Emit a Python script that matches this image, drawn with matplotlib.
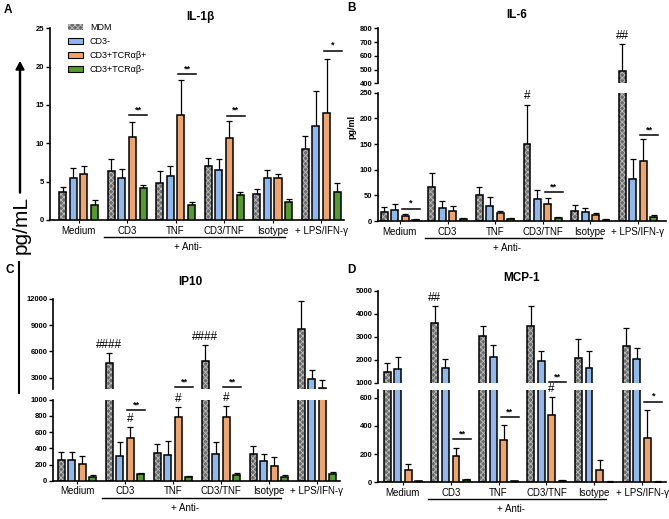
import numpy as np
import matplotlib
matplotlib.use("Agg")
import matplotlib.pyplot as plt
from matplotlib.patches import Patch

plt.rcParams['font.family'] = ['Liberation Sans', 'DejaVu Sans']
plt.rcParams['hatch.linewidth'] = 0.6

W, H = 669, 519

groups = ["Medium", "CD3", "TNF", "CD3/TNF", "Isotype", "+ LPS/IFN-\u03b3"]
series = ["MDM", "CD3-", "CD3+TCR\u03b1\u03b2+", "CD3+TCR\u03b1\u03b2-"]
colors = ["#6c6c6c", "#8fb8ee", "#eea46c", "#559a2c"]

# Panel A: IL-1beta (mean, upper error)
il1_mean = {"MDM": [3.6, 6.4, 4.8, 7.0, 3.4, 9.2],
            "CD3-": [5.5, 5.5, 5.8, 6.5, 5.5, 12.3],
            "TCR+": [6.0, 10.8, 13.7, 10.7, 5.5, 14.0],
            "TCR-": [2.0, 4.2, 2.0, 3.2, 2.3, 3.7]}
il1_err = {"MDM": [4.3, 7.9, 6.4, 8.1, 4.1, 11.0],
           "CD3-": [6.8, 6.7, 7.1, 7.9, 6.5, 16.8],
           "TCR+": [7.0, 12.8, 18.2, 12.9, 6.0, 21.0],
           "TCR-": [2.6, 4.6, 2.4, 3.6, 2.8, 4.8]}
# Panel B: IL-6
il6_mean = {"MDM": [18, 67, 50, 151, 20, 490],
            "CD3-": [21, 26, 29, 42, 17, 82],
            "TCR+": [10, 20, 16, 34, 12, 116],
            "TCR-": [2, 4, 3, 5, 2, 7]}
il6_err = {"MDM": [27, 94, 66, 227, 32, 683],
           "CD3-": [34, 38, 46, 61, 26, 120],
           "TCR+": [14, 29, 20, 45, 15, 160],
           "TCR-": [3, 5, 5, 7, 3, 12]}
# Panel C: IP10
ip10_mean = {"MDM": [260, 4650, 340, 4900, 330, 8500],
             "CD3-": [258, 310, 320, 335, 245, 2800],
             "TCR+": [210, 525, 790, 785, 180, 1800],
             "TCR-": [50, 80, 40, 70, 50, 85]}
ip10_err = {"MDM": [360, 5830, 450, 6750, 425, 11750],
            "CD3-": [350, 480, 490, 480, 330, 3900],
            "TCR+": [310, 660, 910, 925, 290, 2750],
            "TCR-": [70, 100, 55, 95, 65, 105]}
# Panel D: MCP-1
mcp_mean = {"MDM": [1450, 3580, 3030, 3470, 2080, 2600],
            "CD3-": [1580, 1650, 2130, 1950, 1650, 2050],
            "TCR+": [85, 190, 300, 475, 90, 315],
            "TCR-": [8, 15, 8, 12, 5, 5]}
mcp_err = {"MDM": [1840, 4350, 3470, 4350, 2920, 3360],
           "CD3-": [2130, 2030, 2640, 2380, 2400, 2520],
           "TCR+": [130, 240, 410, 605, 155, 510],
           "TCR-": [12, 22, 10, 15, 7, 7]}

# significance annotations: (group index, line height, text)
sig_A = [(1, 13.7, "**"), (2, 19.0, "**"), (3, 13.6, "**"), (5, 22.1, "*")]
sig_B = [(0, 24, "*"), (3, 56, "**"), (5, 168, "**")]
sig_C_low = [(1, 870, "**")]
sig_C_up = [(2, 1880, "**"), (3, 1880, "**")]
sig_D_low = [(1, 305, "**"), (2, 461, "**"), (5, 572, "*")]
sig_D_up = [(3, 1040, "**")]
# hash marks: (group index, series index, text)
hash_B = [(3, 0, "#"), (5, 0, "##")]
hash_C = [(1, 0, "####"), (3, 0, "####"), (1, 2, "#"), (2, 2, "#"), (3, 2, "#")]
hash_D = [(1, 0, "##"), (3, 2, "#")]

keys = ["MDM", "CD3-", "TCR+", "TCR-"]
offsets = [-0.33, -0.11, 0.11, 0.33]
bw = 0.145

fig = plt.figure(figsize=(W / 100, H / 100), dpi=100)


def add_ax(x0, x1, ytop, ybot):
    return fig.add_axes([x0 / W, 1 - ybot / H, (x1 - x0) / W, (ybot - ytop) / H])


def style(ax, bottom=True, xlim=None):
    for s in ["top", "right"]:
        ax.spines[s].set_visible(False)
    ax.spines["left"].set_linewidth(1.2)
    if bottom:
        ax.spines["bottom"].set_linewidth(1.2)
        ax.set_xticks(np.arange(len(groups)))
        ax.set_xticklabels(groups, fontsize=7)
        ax.tick_params(axis="x", length=2, width=0.8, pad=2)
    else:
        ax.spines["bottom"].set_visible(False)
        ax.set_xticks([])
    ax.tick_params(axis="y", length=3, width=1, pad=1, labelsize=5.5)
    for t in ax.get_yticklabels():
        t.set_fontweight("bold")
    ax.set_xlim(*xlim)
    ax.patch.set_alpha(0)


def draw(ax, mean, err):
    x = np.arange(len(groups))
    for k, key in enumerate(keys):
        m = np.array(mean[key], float)
        e = np.array(err[key], float)
        xs = x + offsets[k]
        if k == 0:
            ax.bar(xs, m, bw, color=colors[0], edgecolor="#bdbdbd", hatch="xxxxxx", lw=0, zorder=2)
            ax.bar(xs, m, bw, fill=False, edgecolor="black", lw=1.1, zorder=3)
        else:
            ax.bar(xs, m, bw, color=colors[k], edgecolor="black", lw=1.1, zorder=3)
        ax.errorbar(xs, m, yerr=[np.zeros_like(m), e - m], fmt="none", ecolor="black",
                    elinewidth=0.9, capsize=2.2, capthick=0.9, zorder=1)


def sig(ax, items):
    for g, y, txt in items:
        ax.plot([g + 0.05, g + 0.42], [y, y], color="black", lw=1.1, clip_on=False)
        ax.annotate(txt, (g + 0.235, y), xytext=(0, 0.5), textcoords="offset points",
                    ha="center", va="bottom", fontsize=6.5, fontweight="bold", annotation_clip=False)


def hashes(ax, items, err):
    for g, k, txt in items:
        ax.annotate(txt, (g + offsets[k], err[keys[k]][g]), xytext=(0, 1.5), textcoords="offset points",
                    ha="center", va="bottom", fontsize=8.5, annotation_clip=False)


def anti(ax, axh):
    tr = ax.get_xaxis_transform()
    ax.plot([1 - 0.47, 4 + 0.25], [-17 / axh, -17 / axh], color="black", lw=1, transform=tr, clip_on=False)
    ax.text(2.25, -22 / axh, "+ Anti-", transform=tr, ha="center", va="top", fontsize=7)


# ---------- Panel A ----------
axA = add_ax(50, 344, 28.3, 220)
draw(axA, il1_mean, il1_err)
axA.set_ylim(0, 25)
axA.set_yticks([0, 5, 10, 15, 20, 25])
style(axA, True, (-0.588, 5.47))
sig(axA, sig_A)
anti(axA, 191.7)
handles = [Patch(facecolor=colors[0], edgecolor="#bdbdbd", hatch="xxxxxx", lw=0)] + \
          [Patch(facecolor=c, edgecolor="black", lw=0.8) for c in colors[1:]]
axA.legend(handles, series, loc="upper left", bbox_to_anchor=(0.05, 1.045), frameon=False,
           fontsize=6.5, handlelength=1.6, handleheight=0.7, labelspacing=0.55, borderaxespad=0)

# ---------- Panel B ----------
xB = (-0.46, 5.59)
axBu = add_ax(378, 666, 28.3, 83.3)
axBl = add_ax(378, 666, 92.7, 221)
for a in (axBu, axBl):
    draw(a, il6_mean, il6_err)
axBu.set_ylim(400, 800)
axBu.set_yticks([400, 500, 600, 700, 800])
axBl.set_ylim(0, 250)
axBl.set_yticks([0, 50, 100, 150, 200, 250])
style(axBu, False, xB)
style(axBl, True, xB)
sig(axBl, sig_B)
hashes(axBl, [h for h in hash_B if h[0] != 5], il6_err)
hashes(axBu, [h for h in hash_B if h[0] == 5], il6_err)
anti(axBl, 128.3)
fig.text(352 / W, 1 - 127 / H, "pg/ml", rotation=90, ha="center", va="center", fontsize=6.5, fontweight="bold")

# ---------- Panel C ----------
xC = (-0.5, 5.48)
axCu = add_ax(53, 340, 298.7, 389)
axCl = add_ax(53, 340, 399.7, 480.7)
for a in (axCu, axCl):
    draw(a, ip10_mean, ip10_err)
axCu.set_ylim(1700, 12000)
axCu.set_yticks([3000, 6000, 9000, 12000])
axCl.set_ylim(0, 1000)
axCl.set_yticks([0, 200, 400, 600, 800, 1000])
style(axCu, False, xC)
style(axCl, True, xC)
sig(axCl, sig_C_low)
sig(axCu, sig_C_up)
hashes(axCu, [h for h in hash_C if h[1] == 0], ip10_err)
hashes(axCl, [h for h in hash_C if h[1] != 0], ip10_err)
anti(axCl, 81)

# ---------- Panel D ----------
xD = (-0.52, 5.5)
axDu = add_ax(378, 666, 290.7, 382.7)
axDl = add_ax(378, 666, 390, 482.3)
for a in (axDu, axDl):
    draw(a, mcp_mean, mcp_err)
axDu.set_ylim(1000, 5000)
axDu.set_yticks([1000, 2000, 3000, 4000, 5000])
axDl.set_ylim(0, 655)
axDl.set_yticks([0, 200, 400, 600])
style(axDu, False, xD)
style(axDl, True, xD)
sig(axDl, sig_D_low)
sig(axDu, sig_D_up)
hashes(axDu, [h for h in hash_D if h[1] == 0], mcp_err)
hashes(axDl, [h for h in hash_D if h[1] != 0], mcp_err)
anti(axDl, 92.3)

# ---------- titles & panel letters ----------
for x, y, t in [(200, 17, "IL-1\u03b2"), (517, 15, "IL-6"), (190, 282, "IP10"), (522, 278, "MCP-1")]:
    fig.text(x / W, 1 - y / H, t, ha="center", va="center", fontsize=8.5, fontweight="bold")
for x, y, t in [(8, 10, "A"), (351, 8, "B"), (10, 270, "C"), (351, 270, "D")]:
    fig.text(x / W, 1 - y / H, t, ha="center", va="center", fontsize=8.5, fontweight="bold")

# big pg/mL label with arrow (panel A)
fig.patches.append(matplotlib.patches.FancyArrow(20 / W, 1 - 193 / H, 0, (193 - 70) / H, width=0.0015,
                                                  head_width=0.012, head_length=0.015,
                                                  length_includes_head=False, color="black",
                                                  transform=fig.transFigure, figure=fig))
fig.text(21 / W, 1 - 225 / H, "pg/mL", rotation=90, ha="center", va="center", fontsize=15)
# vertical line at left of panel C
fig.add_artist(matplotlib.lines.Line2D([19 / W, 19 / W], [1 - 262 / H, 1 - 393 / H], color="black", lw=1.5))

fig.savefig("out.png", dpi=100)
